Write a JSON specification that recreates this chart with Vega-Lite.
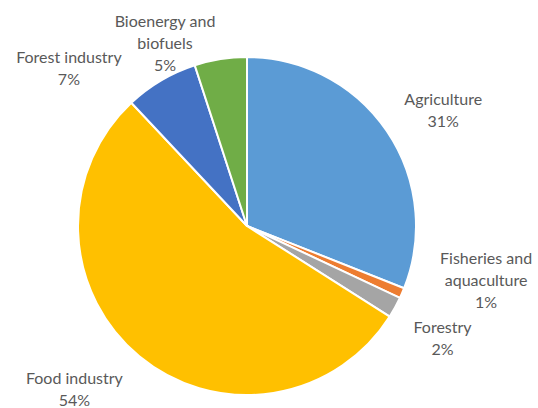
{
  "$schema": "https://vega.github.io/schema/vega-lite/v6.json",
  "autosize": "none",
  "width": 494,
  "height": 364,
  "padding": {"left": 0, "top": 44, "right": 44, "bottom": 0},
  "data": {
    "values": [
      {"rank": 1, "category": "Agriculture", "share": 31, "label": "Agriculture\n31%"},
      {"rank": 2, "category": "Fisheries and aquaculture", "share": 1, "label": "Fisheries and\naquaculture\n1%"},
      {"rank": 3, "category": "Forestry", "share": 2, "label": "Forestry\n2%"},
      {"rank": 4, "category": "Food industry", "share": 54, "label": "Food industry\n54%"},
      {"rank": 5, "category": "Forest industry", "share": 7, "label": "Forest industry\n7%"},
      {"rank": 6, "category": "Bioenergy and biofuels", "share": 5, "label": "Bioenergy and\nbiofuels\n5%"}
    ]
  },
  "encoding": {
    "theta": {"field": "share", "type": "quantitative", "stack": true},
    "order": {"field": "rank", "type": "quantitative"}
  },
  "layer": [
    {
      "mark": {"type": "arc", "outerRadius": 169, "stroke": "white", "strokeWidth": 2},
      "encoding": {
        "color": {
          "field": "category",
          "type": "nominal",
          "scale": {
            "domain": ["Agriculture", "Fisheries and aquaculture", "Forestry", "Food industry", "Forest industry", "Bioenergy and biofuels"],
            "range": ["#5B9BD5", "#ED7D31", "#A5A5A5", "#FFC000", "#4472C4", "#70AD47"]
          },
          "legend": null
        }
      }
    },
    {
      "mark": {"type": "text", "radius": 230, "dx": 6, "dy": 3, "font": "Lato", "fontSize": 16, "lineHeight": 22, "lineBreak": "\n", "color": "#595959"},
      "encoding": {"text": {"condition": {"test": "datum.category === 'Agriculture'", "field": "label"}, "value": ""}}
    },
    {
      "mark": {"type": "text", "radius": 230, "dx": 28, "dy": -58, "font": "Lato", "fontSize": 16, "lineHeight": 22, "lineBreak": "\n", "color": "#595959"},
      "encoding": {"text": {"condition": {"test": "datum.category === 'Fisheries and aquaculture'", "field": "label"}, "value": ""}}
    },
    {
      "mark": {"type": "text", "radius": 230, "dx": -6, "dy": -9, "font": "Lato", "fontSize": 16, "lineHeight": 22, "lineBreak": "\n", "color": "#595959"},
      "encoding": {"text": {"condition": {"test": "datum.category === 'Forestry'", "field": "label"}, "value": ""}}
    },
    {
      "mark": {"type": "text", "radius": 230, "dx": -26, "dy": -24, "font": "Lato", "fontSize": 16, "lineHeight": 22, "lineBreak": "\n", "color": "#595959"},
      "encoding": {"text": {"condition": {"test": "datum.category === 'Food industry'", "field": "label"}, "value": ""}}
    },
    {
      "mark": {"type": "text", "radius": 230, "dx": -61, "dy": 30, "font": "Lato", "fontSize": 16, "lineHeight": 22, "lineBreak": "\n", "color": "#595959"},
      "encoding": {"text": {"condition": {"test": "datum.category === 'Forest industry'", "field": "label"}, "value": ""}}
    },
    {
      "mark": {"type": "text", "radius": 230, "dx": -46, "dy": 23, "font": "Lato", "fontSize": 16, "lineHeight": 22, "lineBreak": "\n", "color": "#595959"},
      "encoding": {"text": {"condition": {"test": "datum.category === 'Bioenergy and biofuels'", "field": "label"}, "value": ""}}
    }
  ],
  "config": {"view": {"stroke": null}}
}
